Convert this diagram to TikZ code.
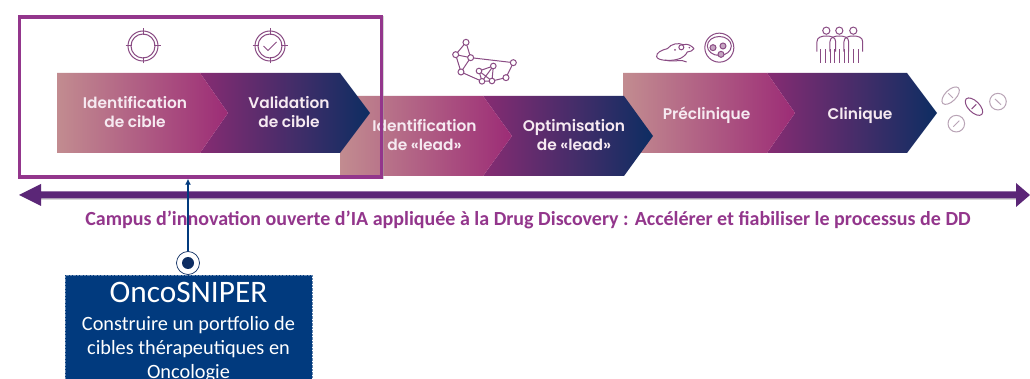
\documentclass[tikz,border=0pt]{standalone}
\usepackage{fontspec}
\setmainfont{Carlito}
\newfontfamily\pop{Poppins}[UprightFont=* SemiBold]
\usetikzlibrary{arrows.meta}
\definecolor{pinkA}{HTML}{C28C90}
\definecolor{magA}{HTML}{9C2C76}
\definecolor{magB}{HTML}{862C72}
\definecolor{navyA}{HTML}{0D2D62}
\definecolor{boxpurple}{HTML}{93368C}
\definecolor{barpurple}{HTML}{5B2677}
\definecolor{ocean}{HTML}{013A7E}
\definecolor{iconc}{HTML}{8A4C84}
\definecolor{pillc}{HTML}{B9A4B6}
\definecolor{wtext}{HTML}{F6EAF1}
\tikzset{
  steplabel/.style={font=\pop\fontsize{15.4}{19}\selectfont,text=wtext,align=center,inner sep=0pt},
  iconline/.style={draw=iconc,line width=1pt,fill=none},
  pilline/.style={draw=pillc,line width=1pt,fill=none},
  molnode/.style={draw=iconc,line width=1pt,fill=white},
}
% #1 x left, #2 x notch, #3 tip, #4 shoulder, #5 end tip, #6 top y
\newcommand{\stagepair}[6]{%
  \pgfmathsetmacro{\yb}{#6+80}\pgfmathsetmacro{\ym}{#6+40}%
  \shade[left color=magB,right color=navyA] (#2,#6) -- (#4,#6) -- (#5,\ym) -- (#4,\yb) -- (#2,\yb) -- (#3,\ym) -- cycle;
  \shade[left color=pinkA,right color=magA] (#1,#6) -- (#2,#6) -- (#3,\ym) -- (#2,\yb) -- (#1,\yb) -- cycle;
}
\newcommand{\targeticon}[1]{%
  \draw[iconline] (#1) circle (15pt) (#1) circle (12pt);
  \draw[iconline] ([xshift=-17.5pt]#1) -- ([xshift=-11pt]#1) ([xshift=17.5pt]#1) -- ([xshift=11pt]#1)
     ([yshift=-17.5pt]#1) -- ([yshift=-11pt]#1) ([yshift=17.5pt]#1) -- ([yshift=11pt]#1);
}
\begin{document}
\begin{tikzpicture}[x=1pt,y=-1pt]
\useasboundingbox (0,0) rectangle (1030,379);
\fill[white] (0,0) rectangle (1030,379);
% stages
\stagepair{623}{767}{795}{907}{937}{73}
\stagepair{340}{483}{512}{624}{653}{96}
\stagepair{57}{200}{228}{340}{370}{73}
\node[steplabel] (n1) at (135,112) {Identification\\de cible};
\node[steplabel] (n2) at (289,112) {Validation\\de cible};
\node[steplabel] (n3) at (424.5,135) {Identification\\de «lead»};
\node[steplabel] (n4) at (574,135) {Optimisation\\de «lead»};
\node[steplabel] (n5) at (706.5,115) {Préclinique};
\node[steplabel] (n6) at (860,115) {Clinique};
% shadows and box
\draw[black!35,line width=2.6pt,opacity=.45] (19,17) rectangle (383,177.5);
\node[draw=boxpurple,line width=3.2pt,minimum width=362pt,minimum height=160pt,inner sep=0pt,anchor=north west] (focus) at (18,15.5) {};
% long bar
\coordinate (barL) at (19,195);
\coordinate (barR) at (1030,195);
\draw[black!30,line width=1.5pt,opacity=.5] (41,199) -- (1016,199);
\fill[barpurple] (barL) -- (41,184) -- (41,191.5) -- (1016,191.5) -- (1016,183) -- (barR) -- (1016,207) -- (1016,198.5) -- (41,198.5) -- (41,206) -- cycle;
\node[font=\bfseries\fontsize{20}{22}\selectfont,text=boxpurple,inner sep=0pt] (campus) at (528,220) {Campus d’innovation ouverte d’IA appliquée à la Drug Discovery : Accélérer et fiabiliser le processus de DD};
% blue box
\node[fill=ocean,draw=ocean!60,densely dotted,line width=.4pt,minimum width=247pt,minimum height=120pt,anchor=north west,inner sep=0pt] (onco) at (65,275) {};
\node[font=\fontsize{31.3}{34}\selectfont,text=white,inner sep=0pt] (oncotitle) at (188.5,292) {OncoSNIPER};
\node[font=\fontsize{20.3}{24.2}\selectfont,text=white,align=center,inner sep=0pt,anchor=north] (oncotext) at (188.5,316) {Construire un portfolio de\\cibles thérapeutiques en\\Oncologie};
% pin and connector
\node[circle,draw=navyA,fill=white,line width=.7pt,minimum size=23pt,inner sep=0pt] (pin) at (188,263) {};
\node[circle,fill=navyA,minimum size=12pt,inner sep=0pt] (pindot) at (pin.center) {};
\draw[-{Latex[length=6pt,width=6pt]},draw=ocean,fill=ocean,line width=1.5pt] (pin.north) -- (pin.north |- focus.south);
% target icons
\coordinate (t1) at (143,46);
\coordinate (t2) at (270,46);
\targeticon{t1}
\targeticon{t2}
\draw[iconline] (263.5,46) -- (268,50.5) -- (276.5,42);
% molecule
\begin{scope}[shift={(340,20)},x=0.3333pt,y=-0.3333pt]
\draw[iconline] (378,67)--(347,104)--(392,113)--(378,67) (347,104)--(363,156)--(392,113)--(520,128)--(498,173)--(456,183)--(426,184)--(363,156)
 (417,153)--(460,138)--(456,183)--(417,153)--(426,184)--(460,138);
\foreach \p in {(378,67),(347,104),(392,113),(363,156),(520,128),(498,173)} \draw[molnode] \p circle (3pt);
\foreach \p in {(417,153),(460,138),(456,183),(426,184)} \draw[molnode] \p circle (2.8pt);
\end{scope}
% mouse, dish, people, pills
\begin{scope}[shift={(620,10)},x=0.3333pt,y=-0.3333pt]
\draw[iconline] (222,116) .. controls (215,108) and (205,100) .. (190,104) .. controls (175,98) and (155,100) .. (142,116) .. controls (125,120) and (108,128) .. (110,140) .. controls (112,152) and (150,154) .. (172,148) .. controls (185,146) and (198,135) .. (202,126) .. controls (210,126) and (218,122) .. (222,116);
\draw[iconline] (135,150) .. controls (160,158) and (185,146) .. (200,156);
\draw[iconline] (184,112) circle (2.5pt);
\fill[iconc] (165,120) circle (1pt) (208,113) circle (.9pt);
\draw[iconline] (298,113) circle (14.5pt);
\draw[iconline] (298,108) ellipse (12pt and 9.5pt);
\draw[iconline,fill=iconc!50] (279,113) circle (3pt) (309,108) circle (3pt) (303,133) circle (3pt);
\foreach \x in {619,658,700} {\draw[iconline] (\x,62) circle (3.6pt);}
\foreach \x in {619,658,700} {
 \draw[iconline] (\x-28,125) -- (\x-28,95) .. controls (\x-28,82) and (\x-15,78) .. (\x,78) .. controls (\x+15,78) and (\x+28,82) .. (\x+28,95) -- (\x+28,125);
}
\foreach \x in {603,617,631,645,659,673,687,701,716} {\draw[iconline] (\x,158) -- (\x,118);}
\end{scope}
\begin{scope}[shift={(620,10)},x=0.3333pt,y=-0.3333pt]
\draw[pilline,rotate around={45:(992,257)}] (992,257) ellipse (11pt and 5.6pt);
\draw[pilline] (985,250) -- (999,264);
\draw[iconline,rotate around={-45:(1062,290)}] (1062,290) ellipse (11pt and 5.6pt);
\draw[iconline] (1055,297) -- (1069,283);
\draw[pilline] (1134,275) circle (8.3pt) (1125,267) -- (1143,284);
\draw[pilline] (1009,341) circle (8.3pt) (1000,350) -- (1018,332);
\end{scope}
\end{tikzpicture}
\end{document}
